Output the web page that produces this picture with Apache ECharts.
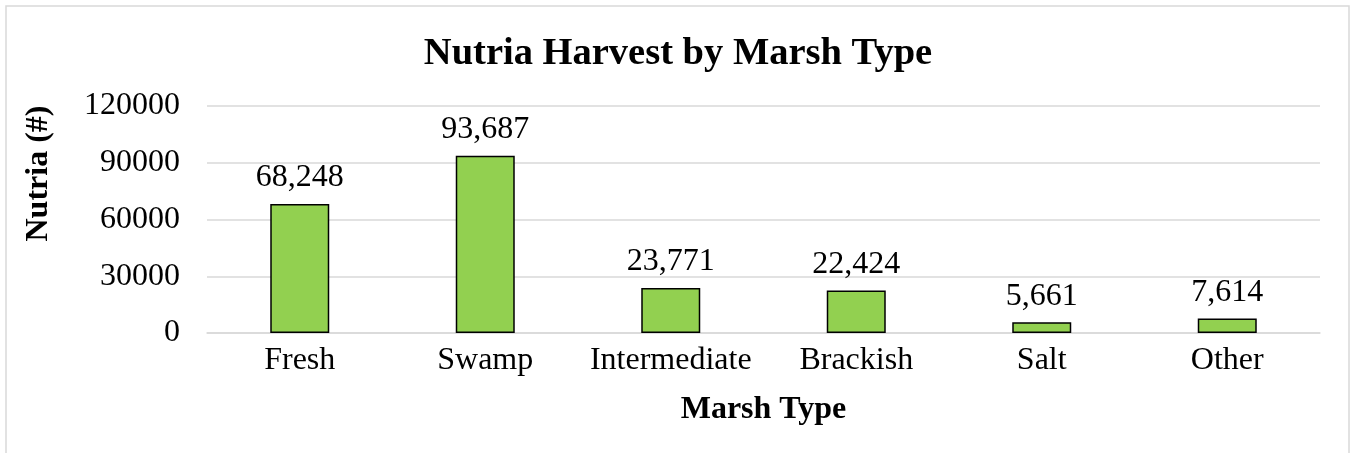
<!DOCTYPE html>
<html>
<head>
<meta charset="utf-8">
<script src="https://cdn.jsdelivr.net/npm/echarts@6/dist/echarts.min.js"></script>
<style>
  html, body { margin: 0; padding: 0; background: #fff; }
  #main { width: 1356px; height: 453px; }
</style>
</head>
<body>
<div id="main"></div>
<script>
// marsh types and harvest counts
let marshTypes = ['Fresh', 'Swamp', 'Intermediate', 'Brackish', 'Salt', 'Other']
let harvestCounts = [68248, 93687, 23771, 22424, 5661, 7614]
let yTicks = [0, 30000, 60000, 90000, 120000]

const FONT = '"Liberation Serif", "Times New Roman", serif'

let chart = echarts.init(document.getElementById('main'), null, { renderer: 'canvas' })

let option = {
  backgroundColor: '#fff',
  animation: false,
  textStyle: { fontFamily: FONT, color: '#000' },
  title: {
    text: 'Nutria Harvest by Marsh Type',
    left: 'center',
    top: 30,
    textStyle: { fontFamily: FONT, fontSize: 38.5, fontWeight: 'bold', color: '#000' }
  },
  graphic: [{
    // outer chart border, bottom edge is off the page
    type: 'rect',
    shape: { x: 6, y: 6, width: 1343, height: 520 },
    style: { fill: 'none', stroke: '#d9d9d9', lineWidth: 1.5 },
    silent: true
  }],
  grid: {
    left: 207,
    right: 36,
    top: 106,
    bottom: 120,
    containLabel: false
  },
  xAxis: {
    type: 'category',
    data: marshTypes,
    name: 'Marsh Type',
    nameLocation: 'middle',
    nameGap: 61,
    nameTextStyle: { fontFamily: FONT, fontSize: 32, fontWeight: 'bold', color: '#000' },
    axisLine: { lineStyle: { color: '#d9d9d9', width: 1.5 } },
    axisTick: { show: false },
    axisLabel: { fontFamily: FONT, fontSize: 32, color: '#000', margin: 12, interval: 0 }
  },
  yAxis: {
    type: 'value',
    min: yTicks[0],
    max: yTicks[yTicks.length - 1],
    interval: yTicks[1] - yTicks[0],
    name: 'Nutria (#)',
    nameLocation: 'middle',
    nameRotate: 90,
    nameGap: 152,
    nameTextStyle: { fontFamily: FONT, fontSize: 32, fontWeight: 'bold', color: '#000', padding: [0, 0, 0, 92] },
    axisLine: { show: false },
    axisTick: { show: false },
    axisLabel: {
      fontFamily: FONT,
      fontSize: 32,
      color: '#000',
      margin: 27,
      formatter: v => String(v)
    },
    splitLine: { lineStyle: { color: '#d9d9d9', width: 1.5 } }
  },
  series: [{
    type: 'bar',
    data: harvestCounts,
    barWidth: 59,
    itemStyle: {
      color: '#92d050',
      borderColor: '#000',
      borderWidth: 1.5
    },
    label: {
      show: true,
      position: 'top',
      distance: 10,
      fontFamily: FONT,
      fontSize: 32,
      color: '#000',
      formatter: p => p.value.toLocaleString('en-US')
    }
  }]
}

chart.setOption(option)
</script>
</body>
</html>
